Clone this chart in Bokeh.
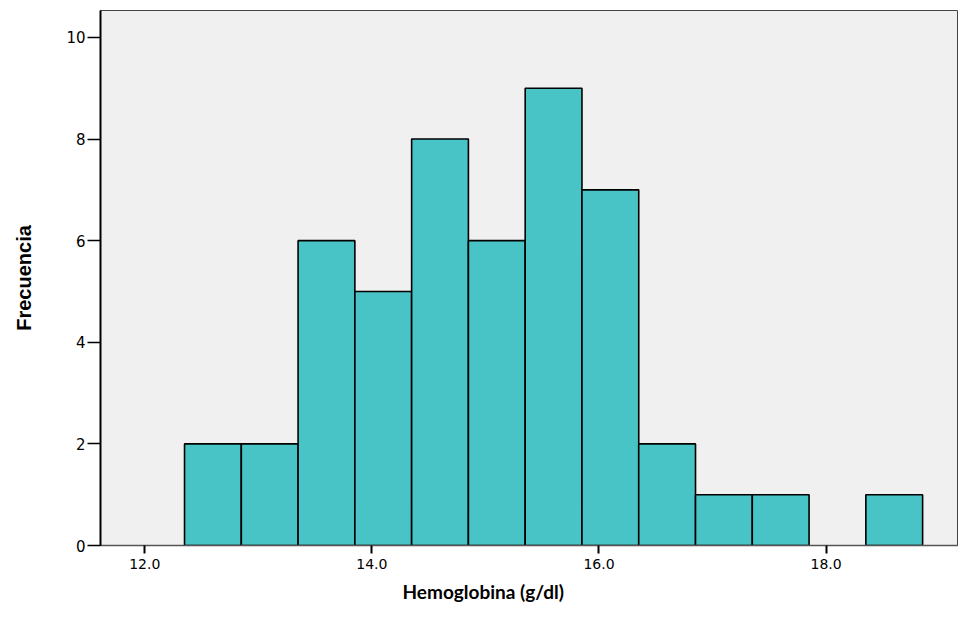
from bokeh.plotting import figure
from bokeh.models import FixedTicker, NumeralTickFormatter, Title, ColumnDataSource, Range1d
from bokeh.embed import file_html
from bokeh.resources import INLINE

# Data
bin_left = [12.35, 12.85, 13.35, 13.85, 14.35, 14.85, 15.35, 15.85, 16.35, 16.85, 17.35, 17.85, 18.35]
bin_right = [12.85, 13.35, 13.85, 14.35, 14.85, 15.35, 15.85, 16.35, 16.85, 17.35, 17.85, 18.35, 18.85]
counts = [2, 2, 6, 5, 8, 6, 9, 7, 2, 1, 1, 0, 1]
x_ticks = [12.0, 14.0, 16.0, 18.0]
y_ticks = [0, 2, 4, 6, 8, 10]
x_title = "Hemoglobina (g/dl)"
y_title = "Frecuencia"

keep = [i for i, c in enumerate(counts) if c > 0]
src = ColumnDataSource(dict(
    left=[bin_left[i] for i in keep],
    right=[bin_right[i] for i in keep],
    top=[counts[i] for i in keep],
    bottom=[0] * len(keep),
))

p = figure(width=958, height=608, output_backend="svg", toolbar_location=None,
           x_range=Range1d(11.61, 19.166), y_range=Range1d(0, 10.53),
           min_border_left=100, min_border_right=0, min_border_top=10, min_border_bottom=62)

p.background_fill_color = "#F0F0F0"
p.border_fill_color = "white"
p.outline_line_color = "#444444"
p.outline_line_width = 1
p.xgrid.visible = False
p.ygrid.visible = False

p.quad(left="left", right="right", top="top", bottom="bottom", source=src,
       fill_color="#48C3C6", line_color="black", line_width=1.6)

xa = p.xaxis[0]
xa.ticker = FixedTicker(ticks=x_ticks)
xa.formatter = NumeralTickFormatter(format="0.0")
xa.major_tick_out = 8
xa.major_tick_in = 0
xa.minor_tick_line_color = None
xa.major_tick_line_width = 2
xa.major_tick_line_color = "black"
xa.axis_line_color = "#555555"
xa.axis_line_width = 1.5
xa.major_label_text_font = "DejaVu Sans"
xa.major_label_text_font_size = "14px"
xa.major_label_text_color = "black"
xa.major_label_standoff = 5

ya = p.yaxis[0]
ya.ticker = FixedTicker(ticks=y_ticks)
ya.major_tick_out = 13
ya.major_tick_in = 0
ya.minor_tick_line_color = None
ya.major_tick_line_width = 1.5
ya.major_tick_line_color = "black"
ya.axis_line_color = "black"
ya.axis_line_width = 2
ya.major_label_text_font = "DejaVu Sans"
ya.major_label_text_font_size = "15px"
ya.major_label_text_color = "black"
ya.major_label_standoff = 2
ya.axis_label = y_title
ya.axis_label_text_font = "Liberation Sans Narrow, Arial Narrow, Liberation Sans, sans-serif"
ya.axis_label_text_font_style = "bold"
ya.axis_label_text_font_size = "20px"
ya.axis_label_text_color = "black"
ya.axis_label_standoff = 28

t = Title(text=x_title, align="left", offset=302, text_font="Lato", text_font_style="bold",
          text_font_size="19px", text_color="black", standoff=12)
p.add_layout(t, "below")

open("out.html", "w").write(file_html(p, INLINE))
